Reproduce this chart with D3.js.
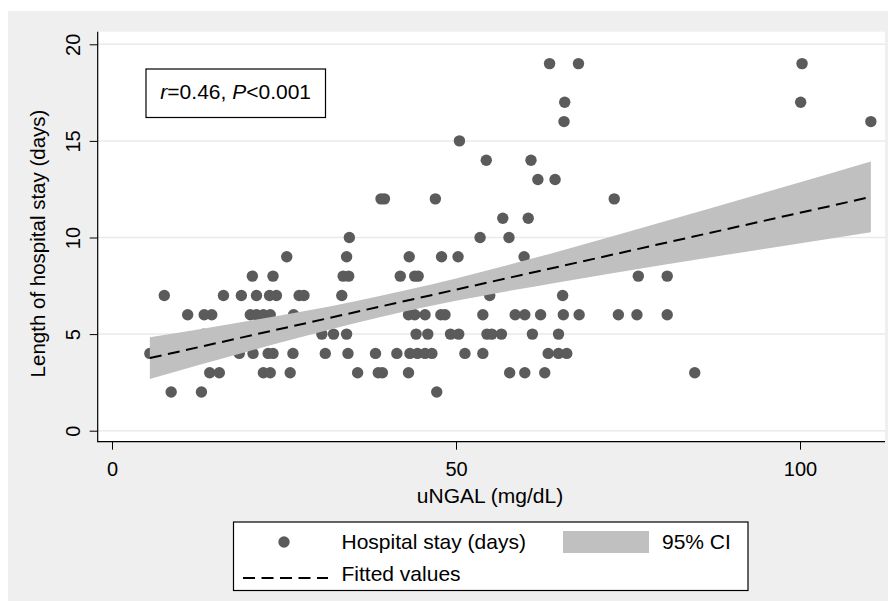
<!DOCTYPE html>
<html>
<head>
<meta charset="utf-8">
<script src="https://cdn.jsdelivr.net/npm/d3@7"></script>
<style>
  html, body { margin: 0; padding: 0; background: #ffffff; }
  svg { display: block; font-family: "Liberation Sans", Arial, Helvetica, sans-serif; }
</style>
</head>
<body>
<svg id="chart" width="888" height="601"></svg>
<script>
// ---- data ----
const xTicks = [0, 50, 100];
const yTicks = [0, 5, 10, 15, 20];

// scatter: uNGAL (mg/dL) and hospital stay (days)
const ungal = [
  8.6, 13.0, 47.2,
  14.2, 15.6, 22.0, 23.0, 25.9, 35.7, 38.7, 39.3, 43.1, 57.8, 60.0, 62.9, 84.7,
  5.5, 18.5, 20.5, 22.7, 23.4, 26.3, 31.0, 34.3, 38.3, 41.4, 43.3, 44.4, 45.5, 46.5, 51.3, 53.9, 63.4, 64.9, 66.1,
  13.3, 30.5, 32.2, 34.1, 44.2, 45.9, 49.2, 50.4, 54.5, 55.2, 56.6, 61.1, 64.9,
  11.0, 13.4, 14.5, 20.1, 21.0, 22.0, 23.0, 26.4, 43.1, 44.0, 45.5, 47.8, 48.4, 53.9, 58.6, 60.0, 62.3, 65.6, 67.9, 73.6, 76.3, 80.7,
  7.6, 16.2, 18.8, 21.0, 22.9, 23.9, 27.2, 27.9, 33.4, 54.9, 65.5,
  20.4, 23.4, 33.6, 34.4, 41.9, 44.0, 44.5, 76.5, 80.7,
  25.4, 34.1, 43.2, 47.9, 50.3, 59.9,
  34.5, 53.5, 57.7,
  56.8, 60.5,
  39.1, 39.6, 47.0, 73.0,
  61.9, 64.4,
  54.4, 60.9,
  50.5,
  65.7, 110.3,
  65.8, 100.1,
  63.6, 67.8, 100.3
];
const stayDays = [
  2, 2, 2,
  3, 3, 3, 3, 3, 3, 3, 3, 3, 3, 3, 3, 3,
  4, 4, 4, 4, 4, 4, 4, 4, 4, 4, 4, 4, 4, 4, 4, 4, 4, 4, 4,
  5, 5, 5, 5, 5, 5, 5, 5, 5, 5, 5, 5, 5,
  6, 6, 6, 6, 6, 6, 6, 6, 6, 6, 6, 6, 6, 6, 6, 6, 6, 6, 6, 6, 6, 6,
  7, 7, 7, 7, 7, 7, 7, 7, 7, 7, 7,
  8, 8, 8, 8, 8, 8, 8, 8, 8,
  9, 9, 9, 9, 9, 9,
  10, 10, 10,
  11, 11,
  12, 12, 12, 12,
  13, 13,
  14, 14,
  15,
  16, 16,
  17, 17,
  19, 19, 19
];

// fitted line and 95% CI band
const fitX = [5.5, 110.3];
const fitY = [3.76, 12.10];
const ciX = [5.5, 20, 35, 50, 65, 80, 95, 110.3];
const ciLower = [2.68, 4.13, 5.54, 6.72, 7.69, 8.58, 9.42, 10.27];
const ciUpper = [4.84, 5.69, 6.68, 7.88, 9.29, 10.80, 12.34, 13.93];

const annotation = { r: "0.46", p: "0.001" };
const legendLabels = ["Hospital stay (days)", "95% CI", "Fitted values"];
const xTitle = "uNGAL (mg/dL)";
const yTitle = "Length of hospital stay (days)";

// ---- drawing ----
const svg = d3.select("#chart");
const plotL = 97.7, plotT = 31.7, plotR = 885, plotB = 441.7;

const x = d3.scaleLinear().domain([0, 100]).range([112, 800]);
const y = d3.scaleLinear().domain([0, 20]).range([430.7, 44.3]);

const ptColor = "#5b5b5b";
const bandColor = "#c0c0c0";
const dash = "12,6.5";

// outer background
svg.append("rect").attr("x", 8).attr("y", 11).attr("width", 880).attr("height", 590).attr("fill", "#efefef");
// plot region
svg.append("rect").attr("x", plotL).attr("y", plotT).attr("width", plotR - plotL).attr("height", plotB - plotT).attr("fill", "#ffffff");

// gridlines
svg.append("g").selectAll("line").data(yTicks).join("line")
  .attr("x1", plotL).attr("x2", plotR)
  .attr("y1", d => y(d)).attr("y2", d => y(d))
  .attr("stroke", "#eaeaea").attr("stroke-width", 1.5);

// points
const pts = ungal.map((v, i) => ({ x: v, y: stayDays[i] }));
svg.append("g").selectAll("circle").data(pts).join("circle")
  .attr("cx", d => x(d.x)).attr("cy", d => y(d.y)).attr("r", 5.7)
  .attr("fill", ptColor);

// CI band
const ciData = ciX.map((v, i) => ({ x: v, lo: ciLower[i], hi: ciUpper[i] }));
const area = d3.area().x(d => x(d.x)).y0(d => y(d.lo)).y1(d => y(d.hi)).curve(d3.curveMonotoneX);
svg.append("path").datum(ciData).attr("d", area).attr("fill", bandColor);

// fitted line
const fitData = fitX.map((v, i) => ({ x: v, y: fitY[i] }));
svg.append("path").datum(fitData)
  .attr("d", d3.line().x(d => x(d.x)).y(d => y(d.y)))
  .attr("fill", "none").attr("stroke", "#000").attr("stroke-width", 2)
  .attr("stroke-dasharray", dash);

// axes
const yAxis = d3.axisLeft(y).tickValues(yTicks).tickSize(8).tickPadding(10).tickFormat(d3.format("d"));
const gy = svg.append("g").attr("transform", `translate(${plotL},0)`).call(yAxis);
gy.select(".domain").remove();
gy.selectAll(".tick line").attr("stroke", "#000").attr("stroke-width", 1);
gy.selectAll(".tick text")
  .attr("x", null).attr("dy", null)
  .attr("text-anchor", "middle")
  .attr("transform", `translate(${80 - plotL},0) rotate(-90)`)
  .attr("y", 0)
  .style("font-size", "20px").attr("fill", "#000");

const xAxis = d3.axisBottom(x).tickValues(xTicks).tickSize(8).tickPadding(8).tickFormat(d3.format("d"));
const gx = svg.append("g").attr("transform", `translate(0,${plotB})`).call(xAxis);
gx.select(".domain").remove();
gx.selectAll(".tick line").attr("stroke", "#000").attr("stroke-width", 1);
gx.selectAll(".tick text").attr("dy", null).attr("y", 34).style("font-size", "20px").attr("fill", "#000");

// axis lines
svg.append("line").attr("x1", plotL).attr("x2", plotL).attr("y1", plotT).attr("y2", plotB + 0.5).attr("stroke", "#000").attr("stroke-width", 1.2);
svg.append("line").attr("x1", plotL).attr("x2", plotR).attr("y1", plotB).attr("y2", plotB).attr("stroke", "#000").attr("stroke-width", 1.2);

// axis titles
svg.append("text").attr("x", 490).attr("y", 503).attr("text-anchor", "middle")
  .style("font-size", "21px").text(xTitle);
svg.append("text").attr("transform", "translate(45,243.5) rotate(-90)").attr("text-anchor", "middle")
  .style("font-size", "20.5px").text(yTitle);

// annotation box
svg.append("rect").attr("x", 146).attr("y", 69).attr("width", 179.5).attr("height", 48.5)
  .attr("fill", "#fff").attr("stroke", "#000").attr("stroke-width", 1.2);
const ann = svg.append("text").attr("x", 235.7).attr("y", 99).attr("text-anchor", "middle").style("font-size", "21px");
ann.append("tspan").style("font-style", "italic").text("r");
ann.append("tspan").text("=" + annotation.r + ", ");
ann.append("tspan").style("font-style", "italic").text("P");
ann.append("tspan").text("<" + annotation.p);

// legend
const lg = svg.append("g");
lg.append("rect").attr("x", 233.5).attr("y", 522).attr("width", 514.5).attr("height", 68.5)
  .attr("fill", "#fff").attr("stroke", "#000").attr("stroke-width", 1.2);
lg.append("circle").attr("cx", 284).attr("cy", 542).attr("r", 5.7).attr("fill", ptColor);
lg.append("text").attr("x", 341.5).attr("y", 549).style("font-size", "21px").text(legendLabels[0]);
lg.append("rect").attr("x", 563).attr("y", 531).attr("width", 86).attr("height", 22).attr("fill", bandColor);
lg.append("text").attr("x", 662).attr("y", 549).style("font-size", "21px").text(legendLabels[1]);
lg.append("line").attr("x1", 243).attr("x2", 328).attr("y1", 578).attr("y2", 578)
  .attr("stroke", "#000").attr("stroke-width", 2).attr("stroke-dasharray", dash);
lg.append("text").attr("x", 341.5).attr("y", 581).style("font-size", "21px").text(legendLabels[2]);
</script>
</body>
</html>
